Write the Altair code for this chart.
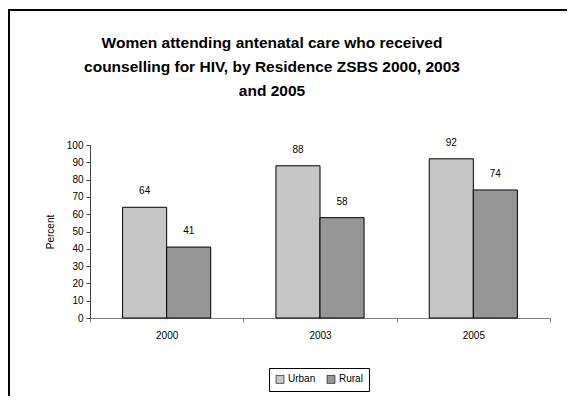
import altair as alt
import pandas as pd

years = ["2000", "2003", "2005"]
urban = [64, 88, 92]
rural = [41, 58, 74]
series = ["Urban", "Rural"]
colors = ["#c6c6c6", "#969696"]
title_lines = ["Women attending antenatal care who received",
               "counselling for HIV, by Residence ZSBS 2000, 2003",
               "and 2005"]
y_ticks = [0, 10, 20, 30, 40, 50, 60, 70, 80, 90, 100]

rows = []
for i, y in enumerate(years):
    rows.append({"Year": y, "Residence": "Urban", "Percent": urban[i]})
    rows.append({"Year": y, "Residence": "Rural", "Percent": rural[i]})
df = pd.DataFrame(rows)

FONT = "Liberation Sans Narrow, Arial Narrow, Liberation Sans, sans-serif"

x_axis = alt.Axis(labelAngle=0, tickBand="extent", tickSize=4,
                  labelPadding=8, domainColor="#808080", tickColor="#808080",
                  labelFont=FONT, labelFontSize=10, labelColor="#000")
y_axis = alt.Axis(values=y_ticks, grid=False, tickSize=4,
                  labelOverlap=False, labelBound=False,
                  labelPadding=3, domainColor="#404040", tickColor="#404040",
                  labelFont=FONT, labelFontSize=10, labelColor="#000",
                  titleFont=FONT, titleFontSize=10, titleFontWeight="normal",
                  titleColor="#000", titlePadding=11)
x_scale = alt.Scale(paddingInner=0, paddingOuter=0)
y_scale = alt.Scale(domain=[0, 100], nice=False)
xo_scale = alt.Scale(paddingInner=0, paddingOuter=0.74)


def enc_x():
    return alt.X("Year:N", sort=years, title=None, scale=x_scale, axis=x_axis)


def enc_y():
    return alt.Y("Percent:Q", title="Percent", scale=y_scale, axis=y_axis)


def enc_xo():
    return alt.XOffset("Residence:N", sort=series, scale=xo_scale)


bars = alt.Chart(df).mark_bar(stroke="#000", strokeWidth=1).encode(
    x=enc_x(),
    xOffset=enc_xo(),
    y=enc_y(),
    fill=alt.Fill("Residence:N", sort=series,
                  scale=alt.Scale(domain=series, range=colors),
                  legend=alt.Legend(title=None, orient="none", legendX=179, legendY=223,
                                    direction="horizontal", columns=2,
                                    strokeColor="#000", padding=6,
                                    symbolType="square", symbolSize=64,
                                    symbolStrokeColor="#000", symbolStrokeWidth=0.6,
                                    labelFont=FONT, labelFontSize=10, labelColor="#000",
                                    columnPadding=9, labelOffset=3)),
)

labels = alt.Chart(df).mark_text(baseline="bottom", dy=-11, font=FONT, fontSize=10,
                                 color="#000").encode(
    x=enc_x(),
    xOffset=enc_xo(),
    y=enc_y(),
    text="Percent:Q",
)

one = pd.DataFrame({"a": [0]})

frame = alt.Chart(one).mark_rect(
    fill=None, stroke="#000", strokeWidth=2
).encode(
    x=alt.value(-81), x2=alt.value(700), y=alt.value(-135), y2=alt.value(400)
)

title = alt.Chart(one).mark_text(
    text=title_lines, font="Liberation Sans", fontSize=15.5, fontWeight="bold",
    color="#000", align="center", baseline="top", lineHeight=24
).encode(x=alt.value(182), y=alt.value(-109))

chart = alt.layer(frame, title, bars, labels).properties(
    width=460, height=173,
    autosize=alt.AutoSizeParams(type="none"),
    padding={"left": 82, "top": 137, "right": 17, "bottom": 78},
).configure_view(stroke=None).configure_axis(labelFlush=False, labelOverlap=False)

chart.save("out.html", embed_options={"renderer": "svg", "actions": False})
